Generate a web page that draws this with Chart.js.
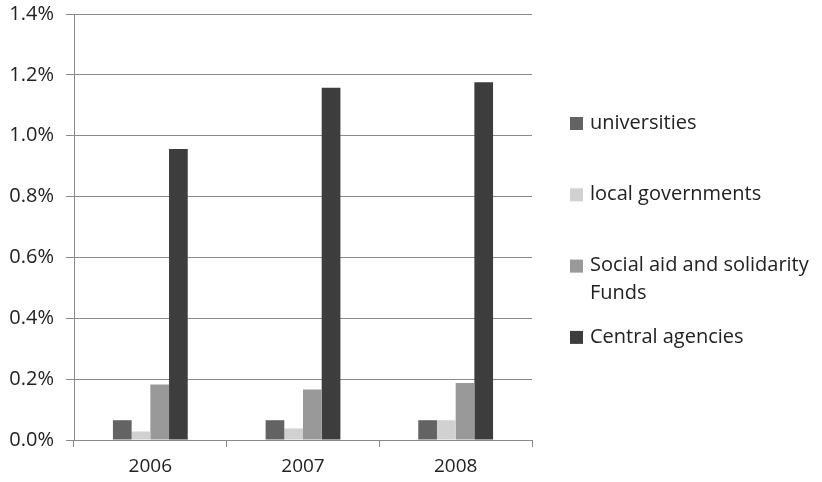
<!DOCTYPE html>
<html>
<head>
<meta charset="utf-8">
<script src="https://cdn.jsdelivr.net/npm/chart.js@4/dist/chart.umd.min.js"></script>
<style>
  html, body { margin: 0; padding: 0; background: #fff; }
  #wrap { width: 822px; height: 482px; }
</style>
</head>
<body>
<div id="wrap"><canvas id="myChart" width="822" height="482"></canvas></div>
<script>
// values in percent
const years = ["2006", "2007", "2008"];
const universities = [0.065, 0.065, 0.065];
const localGov = [0.028, 0.038, 0.065];
const socialAid = [0.182, 0.166, 0.187];
const centralAgencies = [0.956, 1.158, 1.176];
const seriesNames = [["universities"], ["local governments"], ["Social aid and solidarity", "Funds"], ["Central agencies"]];
const seriesColors = ["#636363", "#d1d1d1", "#999999", "#3d3d3d"];
const yMax = 1.4;
const yStep = 0.2;

const gridColor = "#8a8a8a";
const fontFam = "'Open Sans', Lato, sans-serif";

// excel style legend on the right, one entry under another
const sideLegend = {
    id: "sideLegend",
    afterDraw(chart) {
        const ctx = chart.ctx;
        ctx.save();
        ctx.font = "20px " + fontFam;
        ctx.textBaseline = "middle";
        let y = 123;
        chart.data.datasets.forEach((ds) => {
            ctx.fillStyle = ds.backgroundColor;
            ctx.fillRect(570, y - 6, 13, 13);
            ctx.fillStyle = "#222";
            ds.label.forEach((line, k) => {
                ctx.fillText(line, 590, y + k * 28);
            });
            y += 71.3;
        });
        ctx.restore();
    }
};

let datasetsArray = [];
const allValues = [universities, localGov, socialAid, centralAgencies];
for (let i = 0; i < allValues.length; i++) {
    datasetsArray.push({
        label: seriesNames[i],
        data: allValues[i],
        backgroundColor: seriesColors[i],
        borderWidth: 0,
        barPercentage: 1,
        categoryPercentage: 0.49,
    });
}

new Chart(document.getElementById("myChart"), {
    type: "bar",
    data: {
        labels: years,
        datasets: datasetsArray,
    },
    options: {
        responsive: false,
        animation: false,
        layout: {
            padding: { top: 14, right: 290, left: 0, bottom: 0 }
        },
        plugins: {
            legend: { display: false },
            tooltip: { enabled: false },
        },
        scales: {
            x: {
                grid: {
                    display: true,
                    drawOnChartArea: false,
                    drawTicks: true,
                    tickLength: 7,
                    color: gridColor,
                    offset: true,
                },
                border: { display: true, color: gridColor, width: 1 },
                ticks: {
                    color: "#222",
                    padding: 8,
                    font: { family: fontFam, size: 19 },
                },
                afterFit(scale) { scale.height = 42; },
            },
            y: {
                min: 0,
                max: yMax,
                grid: {
                    color: gridColor,
                    tickLength: 8,
                },
                border: { display: true, color: gridColor, width: 1 },
                ticks: {
                    stepSize: yStep,
                    color: "#222",
                    padding: 12,
                    font: { family: fontFam, size: 20 },
                    callback: (v) => v.toFixed(1) + "%",
                },
                afterFit(scale) {
                    scale.width = 74;
                    // let the top label overflow like in the original
                    scale.paddingTop = 0;
                    scale.paddingBottom = 0;
                },
            }
        }
    },
    plugins: [sideLegend],
});
</script>
</body>
</html>
